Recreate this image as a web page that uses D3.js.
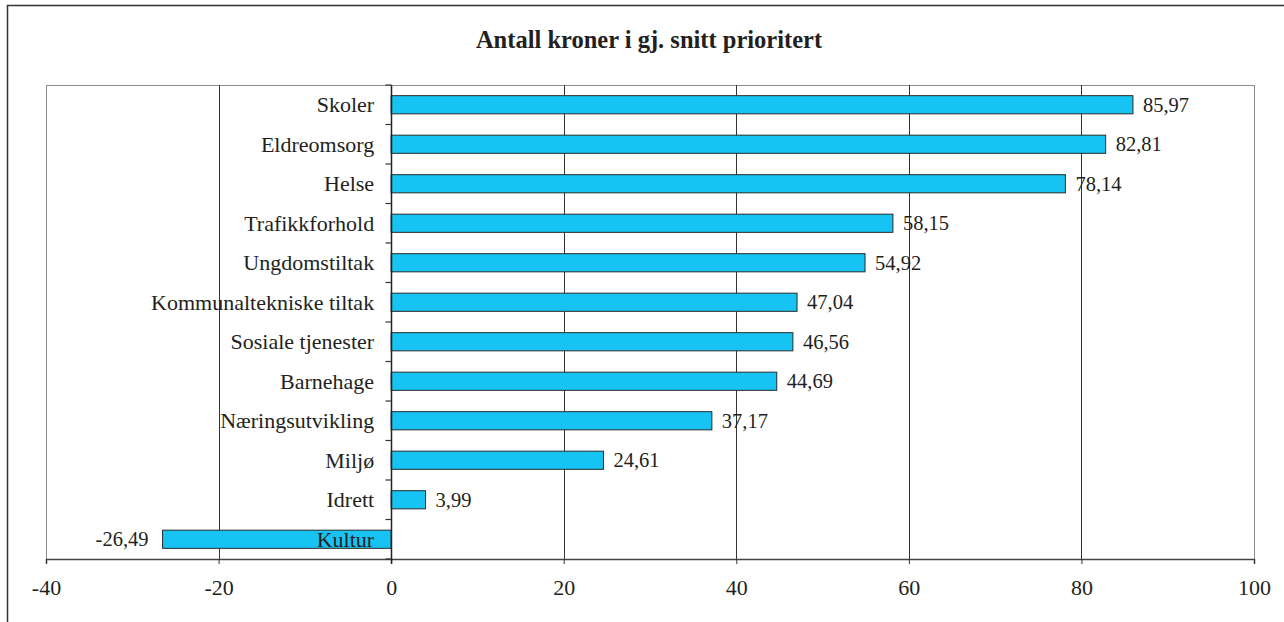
<!DOCTYPE html>
<html>
<head>
<meta charset="utf-8">
<script src="https://cdn.jsdelivr.net/npm/d3@7"></script>
<style>
  body { margin: 0; background: #fff; }
  .lbl { font-family: "Liberation Serif", "Times New Roman", serif; font-size: 22px; fill: #231f20; }
  .val { font-size: 20.5px; }
  .title { font-family: "Liberation Serif", "Times New Roman", serif; font-size: 24.5px; font-weight: bold; fill: #231f20; }
  .bar { fill: #16c3f2; stroke: #2b2b2b; stroke-width: 1; }
</style>
</head>
<body>
<svg id="chart"></svg>
<script>
const categories = ["Skoler", "Eldreomsorg", "Helse", "Trafikkforhold", "Ungdomstiltak",
  "Kommunaltekniske tiltak", "Sosiale tjenester", "Barnehage", "Næringsutvikling ",
  "Miljø", "Idrett", "Kultur"];
const values = [85.97, 82.81, 78.14, 58.15, 54.92, 47.04, 46.56, 44.69, 37.17, 24.61, 3.99, -26.49];
const xTicks = [-40, -20, 0, 20, 40, 60, 80, 100];
const chartTitle = "Antall kroner i gj. snitt prioritert";

const W = 1284, H = 622;
const margin = {top: 85, right: 30, bottom: 63, left: 46};
const width = W - margin.left - margin.right,
      height = H - margin.top - margin.bottom;

const svg = d3.select("#chart").attr("width", W).attr("height", H);

// outer frame (right/bottom edges fall outside the picture)
svg.append("rect")
    .attr("x", 7.5).attr("y", 5.5)
    .attr("width", W + 10).attr("height", H + 10)
    .attr("fill", "none").attr("stroke", "#333").attr("stroke-width", 1.5);

svg.append("text")
    .attr("class", "title")
    .attr("x", 649).attr("y", 48)
    .attr("text-anchor", "middle")
    .text(chartTitle);

const x = d3.scaleLinear().domain([-40, 100]).range([0, width]);
const y = d3.scaleBand().domain(categories).range([0, height]).paddingInner(0.54).paddingOuter(0.27);

const g = svg.append("g").attr("transform", `translate(${margin.left},${margin.top})`);

// plot area frame
g.append("rect")
    .attr("x", 0.5).attr("y", 0.5)
    .attr("width", width).attr("height", height)
    .attr("fill", "none").attr("stroke", "#8a8f94").attr("stroke-width", 1);

// vertical gridlines
g.selectAll(".grid")
    .data(xTicks.filter(d => d > -40 && d < 100))
    .enter().append("line")
    .attr("x1", d => Math.round(x(d)) + 0.5).attr("x2", d => Math.round(x(d)) + 0.5)
    .attr("y1", 0).attr("y2", height)
    .attr("stroke", "#333").attr("stroke-width", 1);

// x axis
const xAxis = g.append("g")
    .attr("transform", `translate(0,${height})`)
    .call(d3.axisBottom(x).tickValues(xTicks).tickSize(5).tickPadding(15).tickFormat(d => d));
xAxis.select(".domain").attr("stroke", "#444").attr("stroke-width", 1.5);
xAxis.selectAll(".tick line").attr("stroke", "#333");
xAxis.selectAll("text").attr("class", "lbl");

// bars
g.selectAll(".bar")
    .data(values)
    .enter().append("rect")
    .attr("class", "bar")
    .attr("x", d => x(Math.min(0, d)))
    .attr("y", (d, i) => y(categories[i]))
    .attr("width", d => Math.abs(x(d) - x(0)))
    .attr("height", y.bandwidth());

// category axis at zero
const x0 = Math.round(x(0)) + 0.5;
g.append("line")
    .attr("x1", x0).attr("x2", x0)
    .attr("y1", 0).attr("y2", height + 5)
    .attr("stroke", "#222").attr("stroke-width", 1.5);
const bounds = d3.range(categories.length + 1).map(i => i * height / categories.length);
g.selectAll(".ytick")
    .data(bounds)
    .enter().append("line")
    .attr("x1", x0 - 6).attr("x2", x0)
    .attr("y1", d => d).attr("y2", d => d)
    .attr("stroke", "#333").attr("stroke-width", 1.2);

// category labels
g.selectAll(".cat")
    .data(categories)
    .enter().append("text")
    .attr("class", "lbl")
    .attr("x", x(0) - 17)
    .attr("y", d => y(d) + y.bandwidth() / 2)
    .attr("dy", "0.35em")
    .attr("text-anchor", "end")
    .text(d => d);

// value labels
g.selectAll(".val")
    .data(values)
    .enter().append("text")
    .attr("class", "lbl val")
    .attr("x", d => d >= 0 ? x(d) + 10 : x(d) - 14)
    .attr("y", (d, i) => y(categories[i]) + y.bandwidth() / 2)
    .attr("dy", "0.35em")
    .attr("text-anchor", d => d >= 0 ? "start" : "end")
    .text(d => d.toFixed(2).replace(".", ","));
</script>
</body>
</html>
